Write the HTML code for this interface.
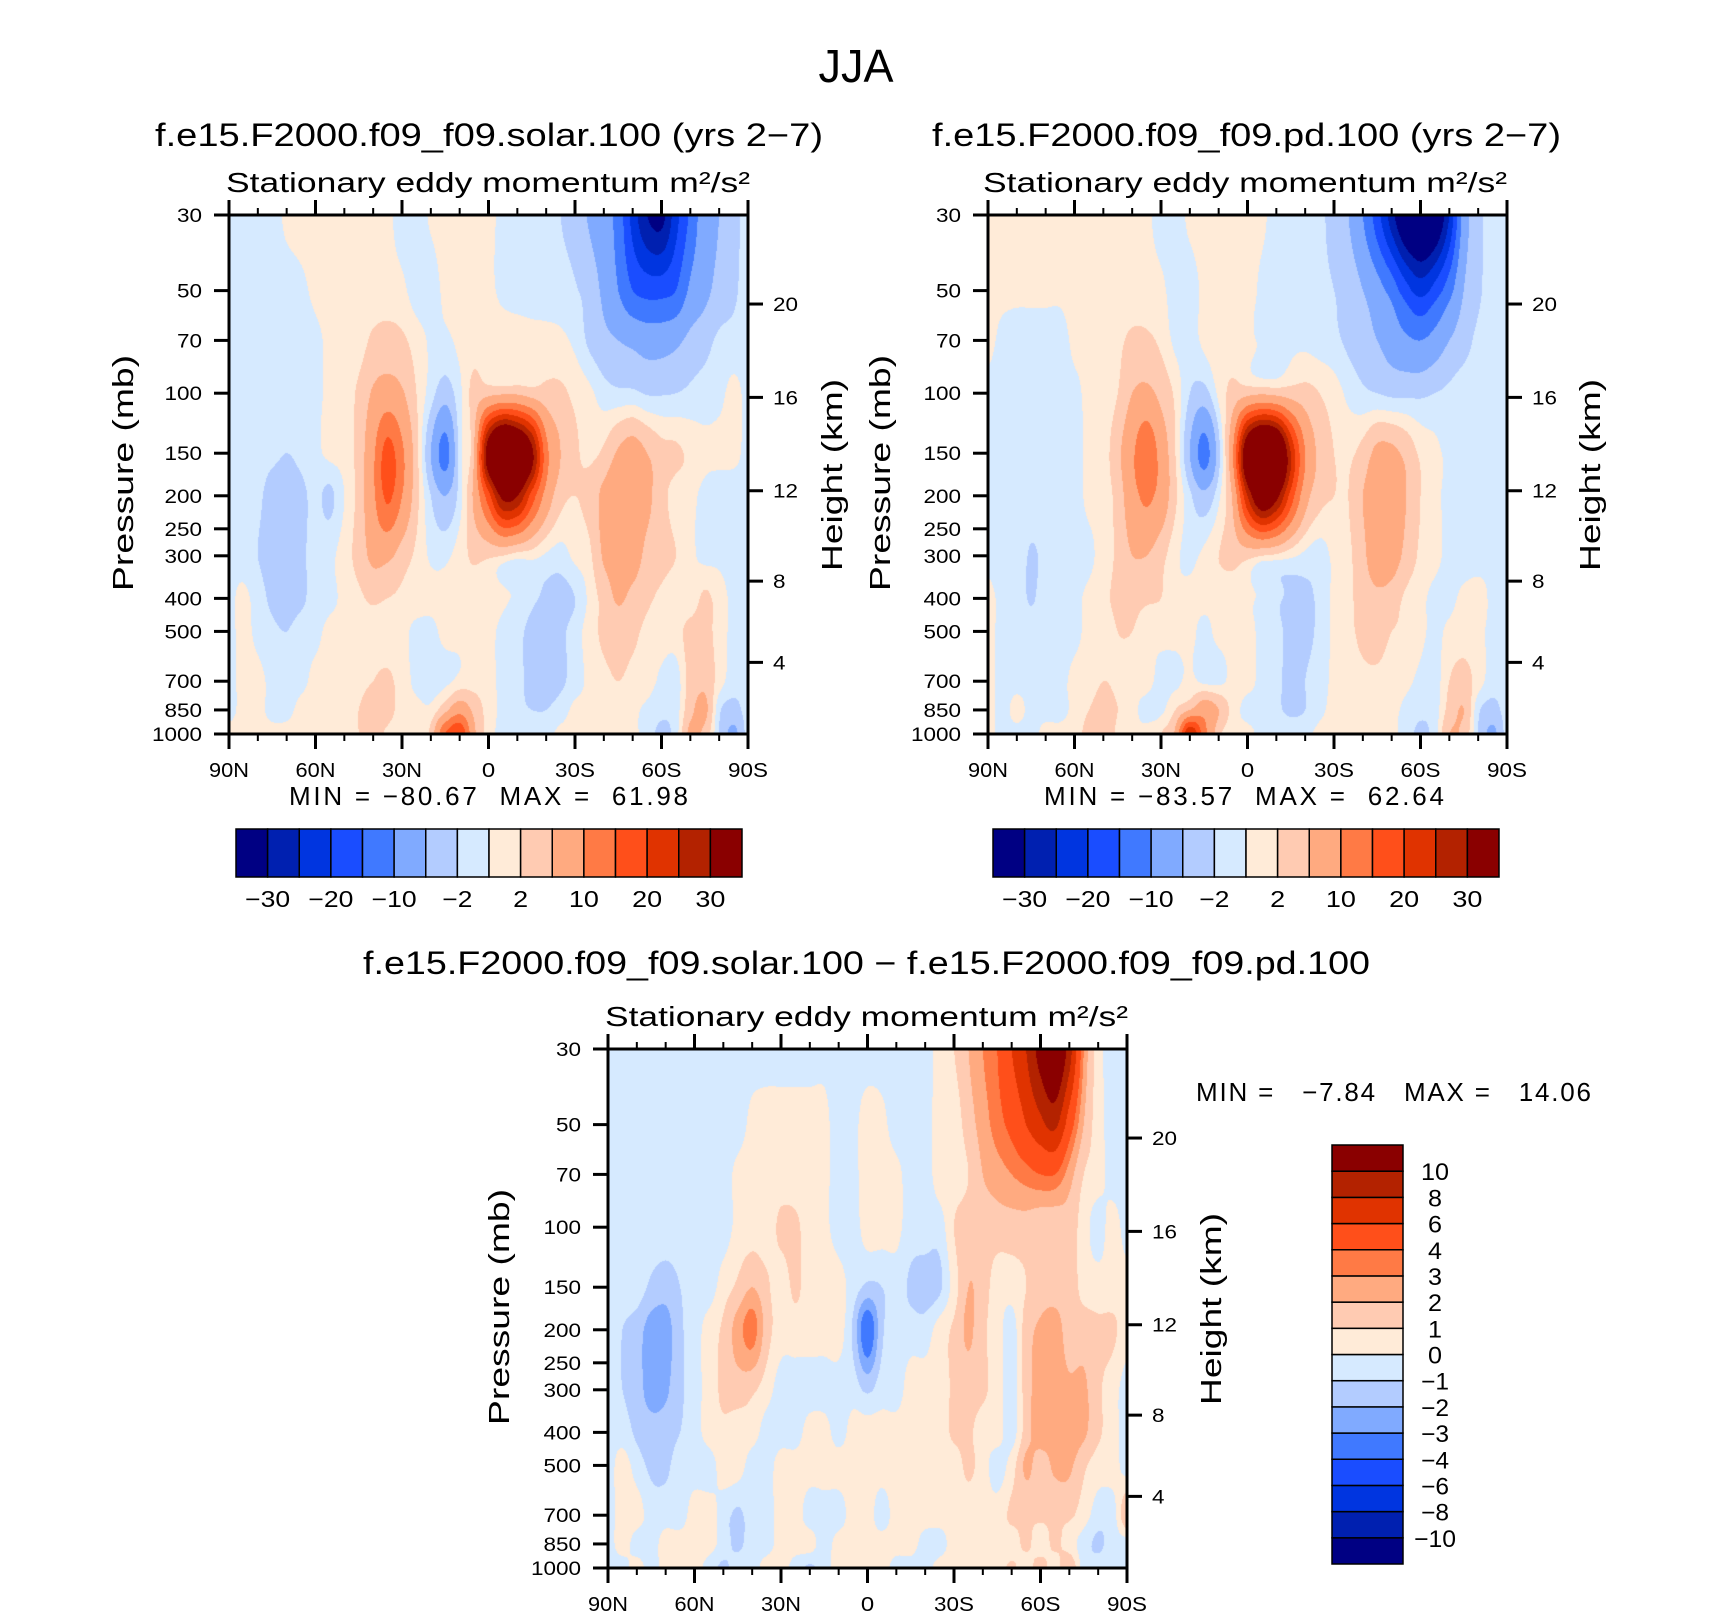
<!DOCTYPE html>
<html><head><meta charset="utf-8">
<style>
html,body{margin:0;padding:0;background:#fff;}
#wrap{position:relative;width:1710px;height:1617px;overflow:hidden;}
canvas{position:absolute;}
svg{position:absolute;left:0;top:0;}
text{font-family:"Liberation Sans",sans-serif;fill:#000;}
</style></head>
<body>
<div id="wrap">
<canvas id="c1" width="519" height="519" style="left:229px;top:215px"></canvas>
<canvas id="c2" width="519" height="519" style="left:988px;top:215px"></canvas>
<canvas id="c3" width="519" height="519" style="left:608px;top:1049px"></canvas>
<svg id="svg" width="1710" height="1617">
<text x="856" y="82" font-size="46" text-anchor="middle" textLength="75" lengthAdjust="spacingAndGlyphs">JJA</text>
<text x="155" y="146" font-size="32" textLength="668" lengthAdjust="spacingAndGlyphs">f.e15.F2000.f09_f09.solar.100 (yrs 2−7)</text>
<text x="932" y="146" font-size="32" textLength="629" lengthAdjust="spacingAndGlyphs">f.e15.F2000.f09_f09.pd.100 (yrs 2−7)</text>
<text x="226" y="192" font-size="28" textLength="524" lengthAdjust="spacingAndGlyphs">Stationary eddy momentum  m²/s²</text>
<text x="983" y="192" font-size="28" textLength="524" lengthAdjust="spacingAndGlyphs">Stationary eddy momentum  m²/s²</text>
<text x="363" y="974" font-size="32" textLength="1007" lengthAdjust="spacingAndGlyphs">f.e15.F2000.f09_f09.solar.100 − f.e15.F2000.f09_f09.pd.100</text>
<text x="605" y="1026" font-size="28" textLength="523" lengthAdjust="spacingAndGlyphs">Stationary eddy momentum  m²/s²</text>
<text x="289" y="805" font-size="26" textLength="399" lengthAdjust="spacing" xml:space="preserve">MIN = −80.67  MAX =  61.98</text>
<text x="1044" y="805" font-size="26" textLength="400" lengthAdjust="spacing" xml:space="preserve">MIN = −83.57  MAX =  62.64</text>
<text x="1196" y="1101" font-size="26" textLength="395" lengthAdjust="spacing" xml:space="preserve">MIN =   −7.84   MAX =   14.06</text>
</svg>
</div>
<script>
// ---------------- data ----------------
const LATS = [90,85,80,75,70,65,60,55,50,45,40,35,30,25,20,15,10,5,0,-5,-10,-15,-20,-25,-30,-35,-40,-45,-50,-55,-60,-65,-70,-75,-80,-85,-90];
const PLEVS = [30,50,70,100,150,200,300,400,500,700,850,1000];
const pressureTicks = [30,50,70,100,150,200,250,300,400,500,700,850,1000];
const heightTicks = [4,8,12,16,20];
const latTickLabels = ['90N','60N','30N','0','30S','60S','90S'];
const latTickValues = [90,60,30,0,-30,-60,-90];
const levelsFull = [-30,-25,-20,-15,-10,-5,-2,0,2,5,10,15,20,25,30];
const levelsFullLabels = ['−30','−20','−10','−2','2','10','20','30'];
const levelsDiff = [-10,-8,-6,-4,-3,-2,-1,0,1,2,3,4,6,8,10];
const levelsDiffLabels = ['10','8','6','4','3','2','1','0','−1','−2','−3','−4','−6','−8','−10'];
const palette = ['#000083','#0020b0','#0035e0','#1a4dff','#4079ff','#80aaff','#b3ccff','#d6eaff','#ffebd8','#ffcbb2','#ffaa80','#ff7a45','#ff4f1a','#e03300','#b32200','#8a0000'];

const solarField = [
/*30*/ [-0.5,-1,-1,-1,0.5,1,1,1,1,1,1,0.5,-1,-1,0.3,1,1,1,0.5,-0.5,-1,-1,-1,-2,-3,-5.5,-8,-12,-22,-30,-32,-22,-14,-7,-5,-3,-1],
/*50*/ [-0.5,-1,-1,-1,-1,-0.5,0.5,1,1,1,1,1,0.5,-1,-1,0.5,1,1,0.5,-0.5,-1,-1,-1,-1.2,-1.8,-3,-6,-10,-15,-17,-17,-15,-9,-6,-4,-2.5,-1],
/*70*/ [-0.5,-1,-1,-1,-1,-1,-0.5,0.5,1,1,2.5,3,2.5,1,-0.3,-0.5,0.5,1,1.5,1.5,1.5,1,0.8,0.5,-0.5,-2.5,-4,-5,-6,-7,-7,-6,-4,-3,-1.5,-1.2,-1],
/*100*/[-0.5,-1,-1,-1,-1,-1,-0.5,0.5,1,2.5,5.5,7,5.5,2,-1,-3.5,-0.5,3,4,4.5,4.5,3.5,3,2.5,1.5,0.5,-1,-1.5,-1.5,-2.2,-2.2,-2,-1.5,-1,-0.5,0.5,-0.5],
/*150*/[-0.5,-1,-1,-1.5,-2,-1.5,-0.5,0.5,1,3,9,17,11,3,-5,-12,-1,5,35,50,45,32,12,5,2.5,1.5,2.5,5.5,7,5,3,2.5,1.5,0.5,0.5,0.5,-0.5],
/*200*/[-0.5,-1,-1.5,-3,-3,-2.5,-1.5,-2.5,0,3,9,16,10,3,-2,-5,-1,6,18,32,30,18,8,3,2,3,6,8,8,6,3,1,0.5,-0.5,-1,-1,-0.5],
/*300*/[-0.5,-1,-2,-3,-3,-2.5,-1,-0.5,1,3,6,6,3.5,1.5,-0.3,-0.5,1,2.5,2.5,2,1,0.8,-0.3,-0.8,0.5,1.5,5.5,7,7,4,3,2,0.5,-0.5,-0.5,-1,-0.5],
/*400*/[-0.5,0.5,-1,-2.5,-3,-2.5,-1,-0.5,0.5,1.5,2.5,2,1.5,1,0.5,0.5,0.8,1,1,0.5,-0.5,-1.5,-2.5,-3,-2,0.5,3,5.5,4,2.5,1.5,0.5,0.5,2.5,1,-0.5,-0.5],
/*500*/[-0.5,0.5,-0.5,-1.5,-2,-1,-0.5,0.5,0.5,1,1,0.5,0.5,-0.5,-0.5,0.5,0.5,1,0.5,-0.5,-1.5,-2.5,-3,-2.5,-1,1,2.5,3,2.5,1.5,1,1,3,3,1,-0.5,-0.5],
/*700*/[-0.5,0.5,0.5,-0.5,-1,-0.5,0.5,0.5,0.5,1,2,2.5,1,-0.5,-1,-0.5,0.5,1,0.5,-0.5,-1.5,-2.5,-3,-2.5,-1,0.5,1.5,2,1.5,1,-0.5,-1,3,4,1,-1,-1],
/*850*/[-0.5,0.5,0.5,-0.5,-0.5,0.5,0.5,0.5,1,2,4,3,1,0.5,0.5,4,8,4,1,-0.5,-1.5,-2,-2,-1,0.5,0.5,1,1,0.5,-0.5,-1.5,-1,4,6,-1.5,-3,-1],
/*1000*/[0.5,0.5,0.5,0.5,0.5,0.5,0.5,0.5,1,2,3,1.5,0.5,0.5,3,15,20,6,1,-0.5,-0.5,-0.5,-0.5,0.5,0.5,0.5,0.5,0.5,0.5,-1,-2.5,-1,6,4,-2,-6,-1]
];

const pdField = [
/*30*/ [1,1,1,1,1,1,1,1,1,1,1,0.5,-1,-1,0.5,1,1,1,1,0.5,-1,-1,-1,-1.5,-3,-5,-10,-18,-28,-38,-42,-38,-25,-8,-3,-1,-1],
/*50*/ [0.5,0.5,0.5,0.5,0.5,0.5,1,1,1,1,1,1,0.5,-1,-1,0.5,1,1,1,-0.5,-1,-1,-1,-1.5,-2,-3,-5,-8,-12,-18,-22,-18,-12,-5,-2.5,-1,-1],
/*70*/ [0.5,-0.5,-1,-1,-1,-1,0.5,0.5,1,1.5,2.5,2.5,1.5,-0.5,-1,0.5,1,1,0.8,-0.5,-0.5,-0.5,-0.5,-1,-1.5,-2.5,-3.5,-5,-7,-9,-10,-8,-5,-3,-1.5,-1,-0.5],
/*100*/[-0.5,-1,-1,-1,-1,-1,-0.5,0.5,0.8,2,5,6,4,1.5,-2,-3,0.5,3,4,4.5,4,3.5,3,2,1,-0.5,-1.5,-2,-2.5,-2.5,-2.5,-2,-1.5,-1,-1,-0.5,-0.5],
/*150*/[-0.5,-1,-1,-1,-1,-1,-0.8,0.5,1,4,9,14,8,2,-5,-12,-3,10,38,50,45,25,10,4,2,1.5,3,6,6,4,1.5,0.5,-0.5,-1,-1,-1,-0.5],
/*200*/[-0.5,-1,-1,-1,-1,-1,-0.8,0.5,1,3,8,11,8,2.5,-1.5,-4,-0.5,6,25,38,32,18,7,3,2,2,5,7,8,5,2,0.5,-0.5,-1,-1,-1,-0.5],
/*300*/[-0.5,-1,-1,-2.2,-1.5,-1,-0.8,-0.5,1,2.5,5,5,3,0.5,-0.5,0.5,2,3,3,2,1.5,0.5,-0.5,-1,0.5,1.5,4,8,7,4,1.5,0.5,-0.5,-1,-1,-0.5,-0.5],
/*400*/[0.5,-0.5,-1,-2.2,-1,-1,-0.5,0.5,1.5,2.5,3,2.5,2,0.5,0.5,0.5,0.5,0.5,0.5,-0.5,-1.5,-2.5,-2.5,-1.5,0.5,1.5,3,4,3.5,1.5,0.5,-0.5,-0.5,0.5,1,-0.5,-0.5],
/*500*/[0.5,-0.5,-0.5,-1,-1,-1,-0.5,0.5,1,2,2,0.5,0.5,0.5,0.5,-0.5,0.5,0.5,0.5,-0.5,-1.5,-2.5,-2.5,-1.5,0.5,1.5,2.5,3,2,1.5,0.5,-0.5,0.5,1,0.5,-0.5,-0.5],
/*700*/[0.5,-0.5,-0.5,-0.5,-0.5,-0.5,0.5,1,2,1.5,0.5,0.5,-0.5,-0.5,0.5,-0.5,-0.5,0.5,0.5,-0.5,-1.5,-2.5,-2,-1,0.5,1,1.5,1.5,1,0.5,-0.5,-1,2,3,1,-1,-1],
/*850*/[0.5,-0.5,0.5,-0.5,-0.5,-0.5,0.5,2,3,2,0.5,-0.5,-0.5,2,5,8,5,1,-0.5,-0.5,-1.5,-2.5,-2,-0.5,0.5,0.5,0.5,0.5,0.5,-0.5,-1.5,-1,3,5,-1.5,-3,-1],
/*1000*/[0.5,-0.5,-0.5,-0.5,0.5,0.5,1,3,4,1.5,0.5,0.5,2,6,25,12,3,0.5,0.5,-0.5,-0.5,-0.5,-0.5,0.5,0.5,0.5,0.5,0.5,0.5,-1,-2.5,-1,5,4,-2,-6,-1]
];

const diffField = [
/*30*/ [-0.5,-0.5,-0.5,-0.5,-0.5,-0.5,-0.5,-0.5,-0.5,-0.5,-0.5,-0.5,-0.5,-0.5,-0.5,-0.3,-0.5,-0.5,-0.5,-0.5,-0.5,-0.5,-0.5,0.5,1,2,3,4,6,8,11,13,9,3,0.5,-0.5,-0.5],
/*50*/ [-0.5,-0.5,-0.5,-0.5,-0.5,-0.5,-0.5,-0.5,-0.5,-0.5,0.3,0.5,0.5,0.5,0.5,0.3,-0.5,-0.3,0.5,0.3,-0.5,-0.5,-0.5,0.5,0.5,1.5,2.5,3.5,4.5,6,7.5,8.5,5,2,0.5,-0.5,-0.5],
/*70*/ [-0.5,-0.5,-0.5,-0.5,-0.5,-0.5,-0.5,-0.5,-0.5,0.3,0.5,0.5,0.5,0.5,0.5,0.3,-0.5,-0.3,0.5,0.5,0.3,-0.5,-0.5,0.5,0.5,1,2,2.5,3,3.5,4,4,2.5,1,0.5,-0.5,-0.5],
/*100*/[-0.5,-0.5,-0.5,-0.5,-0.5,-0.5,-0.5,-0.5,-0.5,0.3,0.5,0.5,1.2,1.2,0.5,0.3,-0.5,-0.5,0.5,0.5,0.3,-0.5,-0.5,-0.5,1,1.5,1.5,1.5,1.5,1.5,1.2,1.2,1.5,0.5,-0.5,0.5,-0.5],
/*150*/[-0.5,-0.5,-0.5,-1.2,-1.5,-1,-0.5,-0.5,0.5,1.2,2,1.2,0.5,1.2,0.5,0.7,0.5,-0.5,-1.2,-1,-0.5,-1.2,-1.5,-1.2,0.5,2,1.5,0.5,0.5,1,1.5,1.5,1.5,0.7,0.5,0.5,0.5],
/*200*/[-0.5,-1,-1.5,-2.5,-2.5,-1.2,-0.5,0.5,1.2,2.5,3.5,1.5,0.5,0.5,0.5,0.5,0.5,-1.2,-4,-1.2,-0.5,-0.5,-0.5,0.5,1.2,2.2,1.2,0.5,-0.5,1.5,2.2,2.5,1.5,1.5,1.2,1.2,0.5],
/*300*/[-0.5,-1,-1.5,-2.5,-2.2,-1.2,-0.5,0.5,1.2,1.5,1.2,0.5,-0.5,-0.5,-0.5,-0.5,-0.5,-0.5,-1.2,-0.5,-0.5,0.5,0.5,0.5,1.2,1.5,1.2,0.5,-0.5,1.5,2.5,2.5,2.2,2.2,1.2,0.5,-0.5],
/*400*/[-0.5,-0.5,-1.2,-1.5,-1.5,-1,-0.5,0.5,0.8,0.5,0.5,-0.5,-0.5,-0.5,0.5,0.5,-0.5,0.5,0.5,0.5,0.5,0.5,0.5,0.5,1.2,1.2,0.5,0.5,-0.5,1.5,2.5,2.2,2.5,2.2,1.2,0.5,-0.5],
/*500*/[-0.5,0.5,-0.5,-1.2,-1.2,-0.5,-0.5,-0.5,0.5,0.5,-0.5,-0.5,0.5,0.5,0.5,0.5,0.5,0.5,0.5,0.5,0.5,0.5,0.5,0.5,0.5,1.2,0.5,-0.5,0.5,2.2,1.5,2.2,2.2,1.2,0.5,0.5,-0.5],
/*700*/[-0.5,0.5,0.5,-0.5,-0.5,-0.5,0.5,0.5,-0.5,-1.2,-0.5,-0.5,0.5,0.5,-0.5,-0.5,-0.5,0.5,0.5,-0.5,0.5,0.5,0.5,0.5,0.5,0.5,0.5,0.5,1.2,1.2,1.2,1.2,1.2,0.5,-0.5,-0.5,2],
/*850*/[-0.5,0.5,-0.5,-0.5,0.5,0.5,0.5,0.5,-0.5,-1.2,-0.5,-0.5,0.5,0.5,0.5,-0.5,0.5,0.5,0.5,0.5,0.5,0.5,-0.5,-0.5,0.5,0.5,0.5,0.5,0.5,1.2,0.5,1.2,0.5,-0.5,-1.2,-0.5,-0.5],
/*1000*/[-0.5,-0.5,0.5,-0.5,0.5,0.5,0.5,-0.5,-1.2,-0.5,-0.5,0.5,0.5,-0.5,-1.2,-0.5,0.5,0.5,0.5,0.5,-0.5,-0.5,-0.5,0.5,0.5,0.5,0.5,0.5,1.2,0.5,1.5,0.5,2,-0.5,-0.5,-0.5,-0.5]
];

// ---------------- helpers ----------------
const NS = 'http://www.w3.org/2000/svg';
const svg = document.getElementById('svg');
const LOGTOP = Math.log(30), LOGBOT = Math.log(1000);
function yOfP(T, H, p){ return T + (Math.log(p) - LOGTOP) / (LOGBOT - LOGTOP) * H; }
function xOfLat(L, W, lat){ return L + (90 - lat) / 180 * W; }
function pOfHeight(km){ const z = km*1000; if (z <= 11000) return 1013.25*Math.pow(1-0.0065*z/288.15, 5.2559); return 226.32*Math.exp(-(z-11000)/6341.6); }
function hexRGB(h){ return [parseInt(h.substr(1,2),16),parseInt(h.substr(3,2),16),parseInt(h.substr(5,2),16)]; }
const palRGB = palette.map(hexRGB);
function classOf(v, levels){ let k = 0; while (k < levels.length && v >= levels[k]) k++; return k; }
function mk(tag, attrs){ const e = document.createElementNS(NS, tag); for (const k in attrs) e.setAttribute(k, attrs[k]); svg.appendChild(e); return e; }
function txt(s, x, y, size, anchor, len, name){
  const t = mk('text', {x:x, y:y, 'font-size':size, 'text-anchor':anchor});
  if (len) { t.setAttribute('textLength', len); t.setAttribute('lengthAdjust','spacingAndGlyphs'); }
  t.textContent = s;
  
  
  return t;
}
// Catmull-Rom weights
function cr(p0,p1,p2,p3,t){ return 0.5*((2*p1) + (-p0+p2)*t + (2*p0-5*p1+4*p2-p3)*t*t + (-p0+3*p1-3*p2+p3)*t*t*t); }
function rowVal(row, fi){
  const n = row.length;
  let i = Math.floor(fi); if (i >= n-1) i = n-2; if (i < 0) i = 0;
  const t = fi - i;
  const a = row[Math.max(0,i-1)], b = row[i], c = row[i+1], d = row[Math.min(n-1,i+2)];
  return cr(a,b,c,d,t);
}

function fillField(canvasId, field, levels){
  const c = document.getElementById(canvasId), ctx = c.getContext('2d');
  const W = c.width, H = c.height, img = ctx.createImageData(W, H);
  const logP = PLEVS.map(Math.log);
  const nl = logP.length;
  for (let py = 0; py < H; py++){
    const lp = LOGTOP + (py + 0.5) / H * (LOGBOT - LOGTOP);
    let j = 0; while (j < nl - 2 && lp > logP[j+1]) j++;
    let fy = (lp - logP[j]) / (logP[j+1] - logP[j]); fy = Math.max(0, Math.min(1, fy));
    const rA = field[Math.max(0,j-1)], rB = field[j], rC = field[j+1], rD = field[Math.min(nl-1,j+2)];
    for (let px = 0; px < W; px++){
      const fi = (px + 0.5) / W * (LATS.length - 1);
      const v = cr(rowVal(rA,fi), rowVal(rB,fi), rowVal(rC,fi), rowVal(rD,fi), fy);
      const col = palRGB[classOf(v, levels)];
      const o = (py*W + px)*4;
      img.data[o] = col[0]; img.data[o+1] = col[1]; img.data[o+2] = col[2]; img.data[o+3] = 255;
    }
  }
  ctx.putImageData(img, 0, 0);
}

function axes(L, T, W, H, prefix, presX, heightX){
  const R = L + W, B = T + H;
  const frame = mk('rect', {x:L, y:T, width:W, height:H, fill:'none', stroke:'#000', 'stroke-width':3});
  
  
  pressureTicks.forEach(p => {
    const y = yOfP(T, H, p);
    const tk = mk('line', {x1:L-15, x2:L, y1:y, y2:y, stroke:'#000', 'stroke-width':3});
    
    
    const s = String(p);
    txt(s, L-27, y+7, 19, 'end', s.length*12.5, prefix + '-pressure-label');
  });
  heightTicks.forEach(hk => {
    const y = yOfP(T, H, pOfHeight(hk));
    const tk = mk('line', {x1:R, x2:R+15, y1:y, y2:y, stroke:'#000', 'stroke-width':3});
    
    
    const s = String(hk);
    txt(s, R+25, y+7, 19, 'start', s.length*12.5, prefix + '-height-label');
  });
  for (let lat = 90; lat >= -90; lat -= 10){
    const x = xOfLat(L, W, lat), major = (lat % 30 === 0), len = major ? 15 : 7;
    const t1 = mk('line', {x1:x, x2:x, y1:T-len, y2:T, stroke:'#000', 'stroke-width':major?3:2});
    
    
    const t2 = mk('line', {x1:x, x2:x, y1:B, y2:B+len, stroke:'#000', 'stroke-width':major?3:2});
    
    
  }
  latTickLabels.forEach((s, k) => {
    const x = xOfLat(L, W, latTickValues[k]);
    txt(s, x, B+43, 20, 'middle', s.length*13.3, prefix + '-lat-label');
  });
  const cy = T + H*0.497;
  const pl = txt('Pressure  (mb)', 0, 0, 29, 'middle', 236, prefix + '-y-axis-title');
  pl.setAttribute('transform', 'translate(' + presX + ',' + cy + ') rotate(-90)');
  const hl = txt('Height  (km)', 0, 0, 29, 'middle', 192, prefix + '-right-axis-title');
  hl.setAttribute('transform', 'translate(' + heightX + ',' + (cy+2) + ') rotate(-90)');
}

function hColorbar(L, T, W, H, levels, labels, prefix){
  const bw = W / palette.length;
  palette.forEach((c, k) => {
    const r = mk('rect', {x:L + k*bw, y:T, width:bw, height:H, fill:c, stroke:'#000', 'stroke-width':1.5});
    
    
  });
  labels.forEach((s, k) => {
    const x = L + (2*k + 1)*bw;
    txt(s, x, T + H + 30, 23, 'middle', s.length*15, prefix + '-colorbar-label');
  });
}

function vColorbar(L, T, W, H, labels, prefix){
  const bh = H / palette.length;
  palette.forEach((c, k) => {
    const r = mk('rect', {x:L, y:T + (palette.length-1-k)*bh, width:W, height:bh, fill:c, stroke:'#000', 'stroke-width':1.5});
    
    
  });
  labels.forEach((s, k) => {
    const y = T + (k + 1)*bh;
    txt(s, L + W + 32, y + 9, 24, 'middle', s.length*14, prefix + '-colorbar-label');
  });
}

// ---------------- draw ----------------
fillField('c1', solarField, levelsFull);
fillField('c2', pdField, levelsFull);
fillField('c3', diffField, levelsDiff);
axes(229, 215, 519, 519, 'solar', 133, 842);
axes(988, 215, 519, 519, 'pd', 890, 1600);
axes(608, 1049, 519, 519, 'diff', 509, 1221);
hColorbar(236, 829, 506, 48, levelsFull, levelsFullLabels, 'solar');
hColorbar(993, 829, 506, 48, levelsFull, levelsFullLabels, 'pd');
vColorbar(1332, 1145, 71, 419, levelsDiffLabels, 'diff');
</script>
</body></html>
